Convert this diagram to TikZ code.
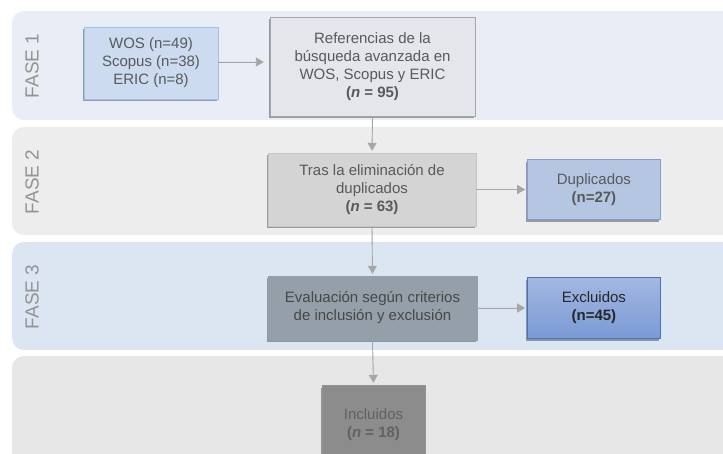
\documentclass[tikz,border=0pt]{standalone}
\usepackage{fontspec}
\setmainfont{Liberation Sans}
\usetikzlibrary{positioning, shadows, arrows.meta}

\definecolor{bandA}{HTML}{E9EDF5}
\definecolor{bandB}{HTML}{EDEDED}
\definecolor{bandC}{HTML}{DCE6F2}
\definecolor{bandD}{HTML}{E6E6E6}
\definecolor{txtgray}{HTML}{595959}
\definecolor{linegray}{HTML}{A6A6A6}
\definecolor{srcfill}{HTML}{CCDBEF}
\definecolor{srcline}{HTML}{9DC3E6}
\definecolor{reffill}{HTML}{E4E6EB}
\definecolor{dedupfill}{HTML}{D4D4D4}
\definecolor{dupfill}{HTML}{B4C6E2}
\definecolor{dupline}{HTML}{7F9FD4}
\definecolor{evalfill}{HTML}{959FA9}
\definecolor{excltop}{HTML}{A3B8E2}
\definecolor{exclbot}{HTML}{7A9AD6}
\definecolor{exclline}{HTML}{4472C4}
\definecolor{inclfill}{HTML}{8C8C8C}

\begin{document}
\begin{tikzpicture}[x=1pt, y=-1pt, >={Triangle[width=9pt,length=8pt]}, font=\fontsize{15}{18}\selectfont]
        \tikzstyle{band} = [rounded corners=12pt, draw=none]
        \tikzstyle{phase} = [rotate=90, text=gray!85, font=\fontsize{19}{21}\selectfont]
        \tikzstyle{box} = [rectangle, draw=linegray, fill=reffill, text=txtgray, align=center, inner sep=0pt, drop shadow={shadow xshift=-1.5pt, shadow yshift=-2.5pt, opacity=0.35, fill=black}]
        \tikzstyle{flow} = [->, draw=linegray, fill=linegray, line width=0.9pt, shorten >=2pt]

        \useasboundingbox (0,0) rectangle (723,454);
        \fill [white] (0,0) rectangle (723,454);

        % fases
        \fill [band, fill=bandA] (12,11) rectangle (740,120);
        \fill [band, fill=bandB] (12,127) rectangle (740,235);
        \fill [band, fill=bandC] (12,242) rectangle (740,350);
        \fill [band, fill=bandD] (12,356) rectangle (740,480);
        \node [phase] (f1) at (32,66) {FASE 1};
        \node [phase] (f2) at (32,182) {FASE 2};
        \node [phase] (f3) at (32,297) {FASE 3};

        \node [box, minimum width=134pt, minimum height=72pt, fill=srcfill, draw=srcline] (source) at (151,63) {WOS (n=49)\\Scopus (n=38)\\ERIC (n=8)};
        \node [box, minimum width=205pt, minimum height=99pt] (refs) at (372.5,66.5) {Referencias de la\\búsqueda avanzada en\\WOS, Scopus y ERIC\\\textbf{(\textit{n} = 95)}};

        \node [box, minimum width=208pt, minimum height=73pt, fill=dedupfill, draw=gray!45] (dedup) at (372,189.5) {Tras la eliminación de\\duplicados\\\textbf{(\textit{n} = 63)}};
        \node [box, minimum width=133pt, minimum height=60pt, right=51pt of dedup, fill=dupfill, draw=dupline] (dup) {Duplicados\\\textbf{(n=27)}};

        \node [box, minimum width=209pt, minimum height=64pt, fill=evalfill, draw=evalfill, text=black!72] (eval) at (372.5,308) {Evaluación según criterios\\de inclusión y exclusión};
        \node [box, minimum width=133pt, minimum height=61pt, right=50pt of eval, top color=excltop, bottom color=exclbot, draw=exclline, text=black!85] (excl) {Excluidos\\\textbf{(n=45)}};

        \node [box, minimum width=103pt, minimum height=80pt, fill=inclfill, draw=gray!85, text=black!62] (incl) at (373.5,425) {Incluidos\\\textbf{(\textit{n} = 18)}};

        \draw [flow, shorten >=6pt] (source.east |- 0,62) -- (refs.west |- 0,62);
        \draw [flow] (refs.south) -- (dedup.north);
        \draw [flow] (dedup.east) -- (dup.west);
        \draw [flow] (dedup.south) -- (eval.north);
        \draw [flow] (eval.east) -- (excl.west);
        \draw [flow] (eval.south) -- (incl.north);
    \end{tikzpicture}
\end{document}
